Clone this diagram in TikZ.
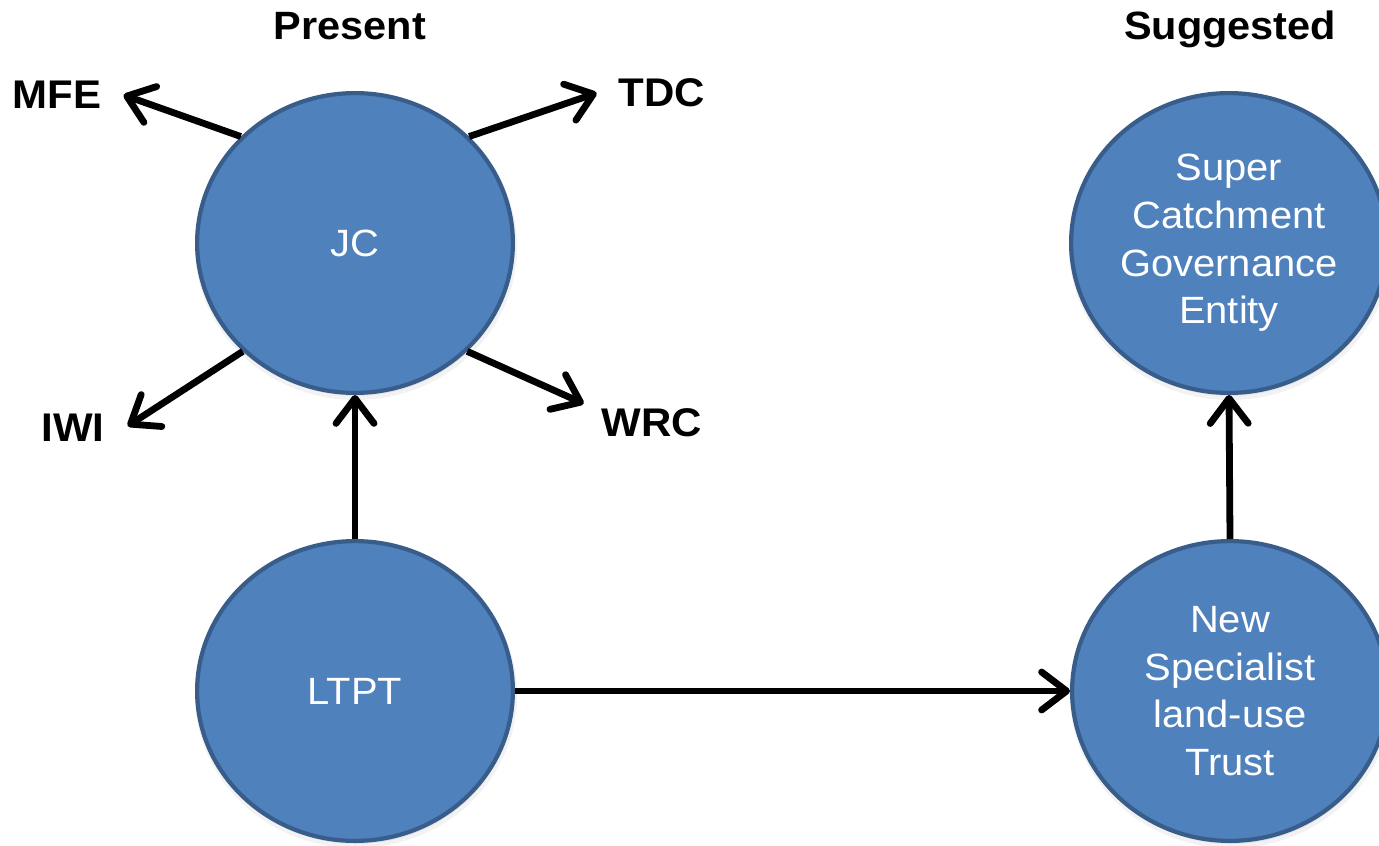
\documentclass[tikz,border=0pt]{standalone}
\usepackage{fontspec}
\setmainfont{Liberation Sans}[FakeStretch=1.05]
\usetikzlibrary{arrows.meta,shapes.geometric,shadows}
\definecolor{cfill}{RGB}{79,129,189}
\definecolor{cline}{RGB}{56,93,138}
\begin{document}
\begin{tikzpicture}[x=1pt,y=-1pt,
  blob/.style={ellipse, draw=cline, line width=4.2pt, fill=cfill,
    minimum width=315.8pt, minimum height=299.8pt, inner sep=0pt,
    text=white, align=center, font=\fontsize{38}{47.7}\selectfont,
    drop shadow={shadow xshift=1pt,shadow yshift=-4pt,opacity=0.10,shadow scale=1.02},
    drop shadow={shadow xshift=1pt,shadow yshift=-3pt,opacity=0.12}},
  lbl/.style={font=\bfseries\fontsize{40}{48}\selectfont, inner sep=0pt},
  head/.style={font=\bfseries\fontsize{39.5}{44}\selectfont, anchor=base, inner sep=0pt},
  arr/.style={line width=6.8pt, -{Straight Barb[length=25pt,width=38pt,round]}}]
\useasboundingbox (0,0) rectangle (1379,846);
% circles
\node[blob] (jc) at (355,243) {JC};
\node[blob] (ltpt) at (355,691) {LTPT};
\node[blob] (sce) at (1229,243) {Super\\Catchment\\Governance\\Entity};
\node[blob] (nst) at (1230,691) {New\\Specialist\\land-use\\Trust};
% headings
\node[head] (present) at (350,39) {Present};
\node[head] (suggested) at (1230,39) {Suggested};
% labels
\node[lbl] (mfe) at (57,95) {MFE};
\node[lbl] (tdc) at (662,93) {TDC};
\node[lbl] (iwi) at (73,428) {IWI};
\node[lbl] (wrc) at (652,423) {WRC};
% connectors
\draw[arr] (jc.137) -- ([xshift=22pt]mfe.east);
\draw[arr] (jc.43) -- ([xshift=-22pt]tdc.west);
\draw[arr] (jc.224) -- ([xshift=23pt,yshift=2pt]iwi.east);
\draw[arr] (jc.316) -- ([xshift=-18pt,yshift=5pt]wrc.north west);
\draw[arr] (ltpt.north) -- (jc.south);
\draw[arr] (ltpt.east) -- (nst.west);
\draw[arr] (nst.north) -- (sce.south);
\end{tikzpicture}
\end{document}
